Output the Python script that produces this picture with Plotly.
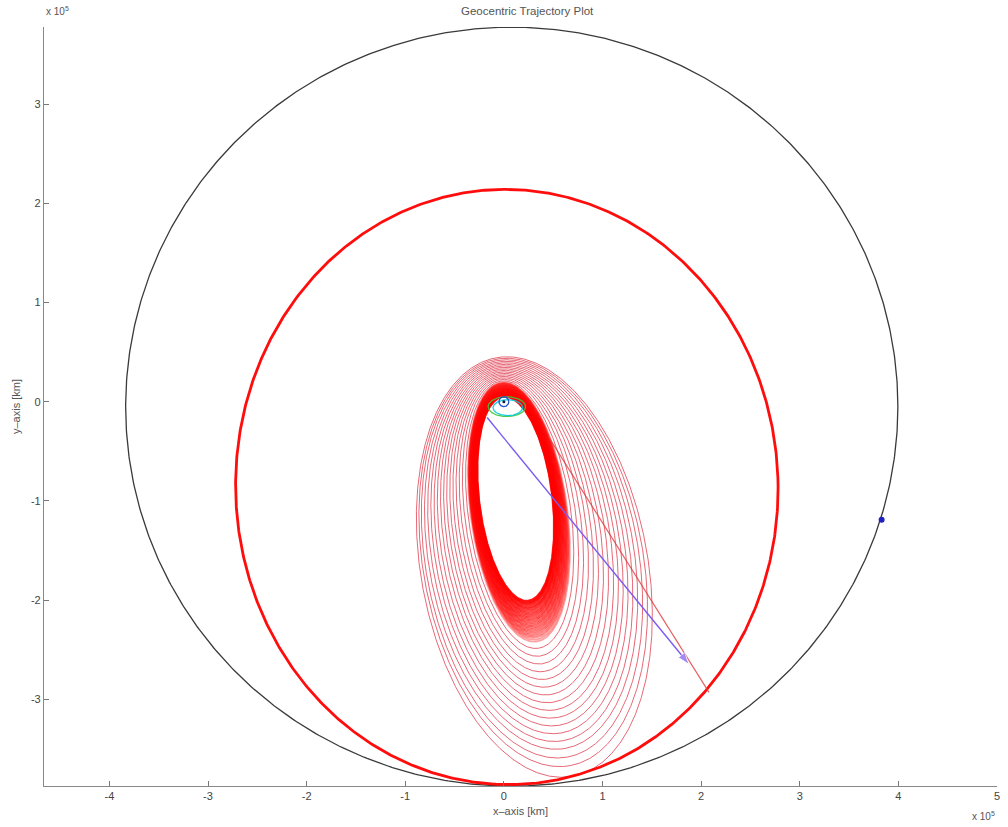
import numpy as np
import plotly.graph_objects as go

# ---- data (units of 1e5 km) ----
x_ticks = [-4, -3, -2, -1, 0, 1, 2, 3, 4, 5]
y_ticks = [-3, -2, -1, 0, 1, 2, 3]

# Moon orbit (slightly eccentric), centre / semi-axes
moon_orbit_center = [0.08, -0.05]
moon_orbit_axes = [3.915, 3.825]
moon_pos = [3.83, -1.19]

# spiral-out orbit family: perigee, apogee, semi-minor axis, apogee direction (deg)
orbit_rp = [0.05, 0.055, 0.06, 0.065, 0.07, 0.075, 0.08, 0.085, 0.09, 0.095,
            0.10, 0.105, 0.11, 0.115, 0.12, 0.125, 0.13, 0.135, 0.14, 0.145,
            0.15, 0.155, 0.16, 0.165, 0.17, 0.175, 0.18, 0.185, 0.19, 0.195,
            0.21, 0.225, 0.24, 0.255, 0.27, 0.285, 0.30, 0.315, 0.33, 0.345,
            0.36, 0.375, 0.39, 0.405, 0.42, 0.435, 0.45]
orbit_ra = [2.02, 2.03, 2.04, 2.05, 2.06, 2.075, 2.09, 2.10, 2.115, 2.13,
            2.145, 2.16, 2.175, 2.19, 2.205, 2.22, 2.235, 2.25, 2.265, 2.28,
            2.295, 2.31, 2.325, 2.34, 2.355, 2.37, 2.385, 2.40, 2.42, 2.44,
            2.51, 2.59, 2.67, 2.75, 2.83, 2.91, 2.99, 3.07, 3.15, 3.23,
            3.31, 3.39, 3.47, 3.55, 3.64, 3.73, 3.84]
orbit_b = [0.37, 0.374, 0.378, 0.382, 0.386, 0.39, 0.394, 0.398, 0.402, 0.406,
           0.41, 0.414, 0.418, 0.422, 0.426, 0.43, 0.434, 0.438, 0.442, 0.446,
           0.45, 0.454, 0.458, 0.462, 0.466, 0.47, 0.474, 0.478, 0.482, 0.49,
           0.52, 0.56, 0.60, 0.64, 0.68, 0.72, 0.76, 0.80, 0.84, 0.88,
           0.92, 0.96, 1.00, 1.04, 1.08, 1.115, 1.15]
orbit_phi = [-83.0, -83.0, -83.0, -83.0, -83.0, -83.0, -82.9, -82.9, -82.9, -82.9,
             -82.8, -82.8, -82.8, -82.8, -82.7, -82.7, -82.7, -82.6, -82.6, -82.6,
             -82.5, -82.5, -82.5, -82.4, -82.4, -82.4, -82.3, -82.3, -82.2, -82.2,
             -82.0, -81.8, -81.6, -81.4, -81.2, -81.0, -80.8, -80.6, -80.4, -80.3,
             -80.2, -80.1, -80.0, -79.9, -79.8, -79.6, -79.5]

# final lunar-transfer orbit
big_orbit_center = [0.03, -0.86]
big_orbit_axes = [2.75, 3.0]

# transfer leg and direction vector
transfer_leg_x = [0.45, 2.08]
transfer_leg_y = [-0.35, -2.93]
arrow_x = [-0.17, 1.88]
arrow_y = [-0.16, -2.65]

# near-Earth detail
earth_radius = 0.05
parking_centers = [[0.03, -0.05], [0.04, -0.06]]
parking_axes = [[0.19, 0.1], [0.15, 0.08]]

t = np.linspace(0, 2 * np.pi, 721)


def ellipse(cx, cy, ax, by, rot_deg=0.0):
    r = np.deg2rad(rot_deg)
    ex = ax * np.cos(t)
    ey = by * np.sin(t)
    return cx + ex * np.cos(r) - ey * np.sin(r), cy + ex * np.sin(r) + ey * np.cos(r)


def kepler_like(rp, ra, b, phi_deg):
    a = (rp + ra) / 2
    c = (ra - rp) / 2
    p = np.deg2rad(phi_deg)
    cx, cy = c * np.cos(p), c * np.sin(p)
    ex = a * np.cos(t)
    ey = b * np.sin(t)
    return cx + ex * np.cos(p) - ey * np.sin(p), cy + ex * np.sin(p) + ey * np.cos(p)


fig = go.Figure()

# Moon orbit
mx, my = ellipse(moon_orbit_center[0], moon_orbit_center[1], moon_orbit_axes[0], moon_orbit_axes[1])
fig.add_trace(go.Scatter(x=mx, y=my, mode="lines", line=dict(color="#3a3a3a", width=1.3),
                         hoverinfo="skip", showlegend=False))

# orbit family
n_dense = 30
for i, (rp, ra, b, ph) in enumerate(zip(orbit_rp, orbit_ra, orbit_b, orbit_phi)):
    ox, oy = kepler_like(rp, ra, b, ph)
    if i < n_dense:
        alpha = 0.85 - 0.5 * i / n_dense
        col, w = f"rgba(255,0,0,{alpha:.2f})", 1.8
    else:
        col, w = "rgba(220,40,60,0.7)", 1.0
    fig.add_trace(go.Scatter(x=ox, y=oy, mode="lines", line=dict(color=col, width=w),
                             hoverinfo="skip", showlegend=False))

# big orbit
bx, by = ellipse(big_orbit_center[0], big_orbit_center[1], big_orbit_axes[0], big_orbit_axes[1], 2.0)
fig.add_trace(go.Scatter(x=bx, y=by, mode="lines", line=dict(color="rgba(255,0,0,0.95)", width=2.8),
                         hoverinfo="skip", showlegend=False))

# transfer leg
fig.add_trace(go.Scatter(x=transfer_leg_x, y=transfer_leg_y, mode="lines",
                         line=dict(color="rgba(220,60,60,0.8)", width=1.2),
                         hoverinfo="skip", showlegend=False))

# near-Earth parking orbits
pcols = ["rgba(60,200,60,0.9)", "rgba(0,200,220,0.9)"]
for (c, axs, col) in zip(parking_centers, parking_axes, pcols):
    px, py = ellipse(c[0], c[1], axs[0], axs[1])
    fig.add_trace(go.Scatter(x=px, y=py, mode="lines", line=dict(color=col, width=1.3),
                             hoverinfo="skip", showlegend=False))

# Earth
ex_, ey_ = ellipse(0, 0, earth_radius, earth_radius)
fig.add_trace(go.Scatter(x=ex_, y=ey_, mode="lines", line=dict(color="#2050d0", width=1.3),
                         hoverinfo="skip", showlegend=False))
fig.add_trace(go.Scatter(x=[0], y=[0], mode="markers", marker=dict(color="#102040", size=3),
                         hoverinfo="skip", showlegend=False))

# Moon
fig.add_trace(go.Scatter(x=[moon_pos[0]], y=[moon_pos[1]], mode="markers",
                         marker=dict(color="#2020c0", size=6), hoverinfo="skip", showlegend=False))

# direction arrow (line + arrow-head marker)
fig.add_trace(go.Scatter(x=arrow_x, y=arrow_y, mode="lines+markers",
                         line=dict(color="#7a5cf0", width=1.4),
                         marker=dict(symbol="arrow", size=[0, 13], angleref="previous",
                                     color="#7a5cf0"),
                         hoverinfo="skip", showlegend=False))

fnt = dict(family="Liberation Sans, Arial, sans-serif", size=11, color="#444")

fig.update_layout(
    width=1008, height=827,
    margin=dict(l=44, r=8, t=27, b=41),
    paper_bgcolor="white", plot_bgcolor="white",
    font=fnt,
    title=dict(text="Geocentric Trajectory Plot", x=0.523, xanchor="center", y=0.992, yanchor="top",
               font=dict(family="Liberation Sans, Arial, sans-serif", size=11.5, color="#555")),
    xaxis=dict(range=[-4.663, 5.0], tickvals=x_ticks, ticktext=[str(v) for v in x_ticks],
               ticks="inside", ticklen=5, tickcolor="#777", showgrid=False, zeroline=False,
               showline=True, linecolor="#888", linewidth=1.2, mirror=False,
               title=dict(text="x\u2013axis [km]", standoff=6, font=dict(size=11, color="#555"))),
    yaxis=dict(range=[-3.874, 3.777], tickvals=y_ticks, ticktext=[str(v) for v in y_ticks],
               ticks="inside", ticklen=5, tickcolor="#777", showgrid=False, zeroline=False,
               showline=True, linecolor="#888", linewidth=1.2, mirror=False,
               title=dict(text="y\u2013axis [km]", standoff=8, font=dict(size=11, color="#555"))),
)

fig.add_annotation(xref="paper", yref="paper", x=0.0, y=1.0, yshift=8, xanchor="left", yanchor="bottom",
                   text="x 10<sup>5</sup>", showarrow=False, font=dict(size=10, color="#555"))
fig.add_annotation(xref="paper", yref="paper", x=1.0, y=0.0, yshift=-22, xanchor="right", yanchor="top",
                   text="x 10<sup>5</sup>", showarrow=False, font=dict(size=10, color="#555"))

fig.write_html("out.html")
